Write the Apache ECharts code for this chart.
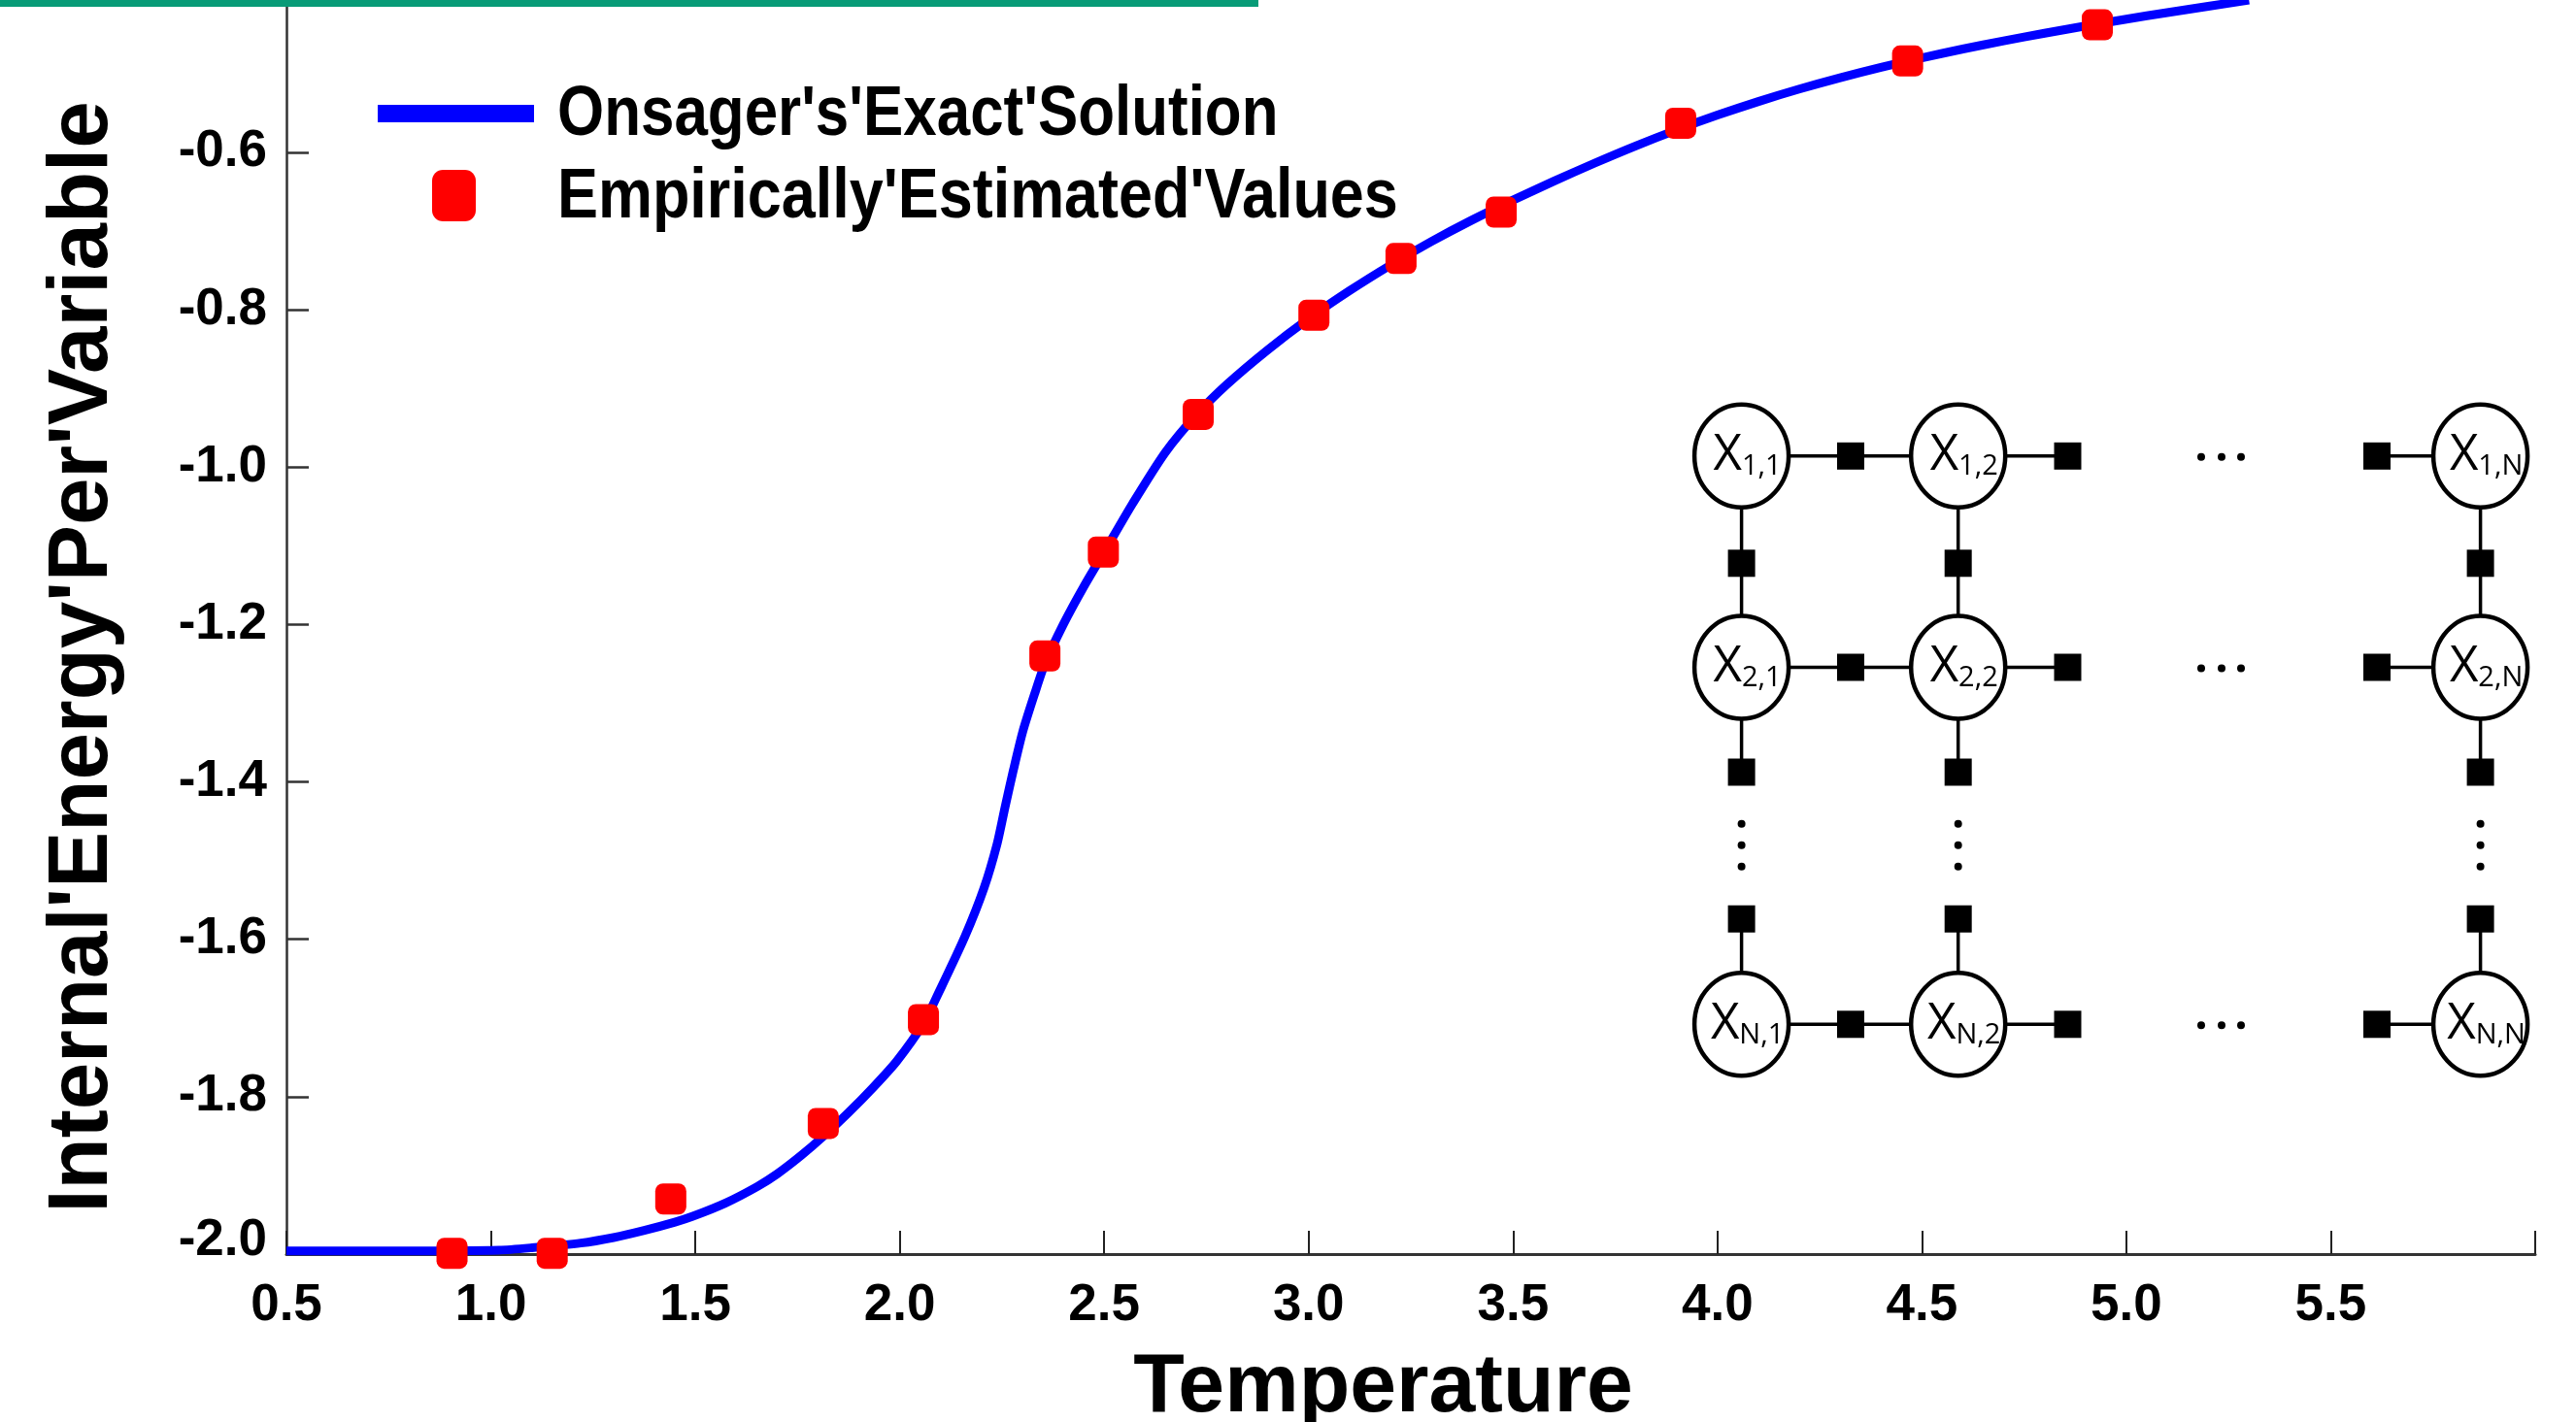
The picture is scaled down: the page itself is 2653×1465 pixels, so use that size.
<!DOCTYPE html>
<html>
<head>
<meta charset="utf-8">
<script src="https://cdn.jsdelivr.net/npm/echarts@6/dist/echarts.min.js"></script>
<style>
html,body{margin:0;padding:0;background:#fff;}
#main{width:2653px;height:1465px;}
</style>
</head>
<body>
<div id="main"></div>
<script>
// ---------- data ----------
var seriesLineName = "Onsager's'Exact'Solution";
var seriesPointName = "Empirically'Estimated'Values";
var xAxisName = "Temperature";
var yAxisName = "Internal'Energy'Per'Variable";

var curveT = [0.50, 0.80, 1.02, 1.10, 1.22, 1.30, 1.375, 1.45, 1.494, 1.573, 1.652, 1.70, 1.76, 1.813, 1.874, 1.935, 1.993,
  2.058, 2.096, 2.159, 2.206, 2.238, 2.258, 2.278, 2.301, 2.33, 2.355, 2.40, 2.45, 2.50, 2.57, 2.65, 2.73,
  2.80, 2.90, 3.00, 3.10, 3.20, 3.30, 3.40, 3.50, 3.60, 3.70, 3.80, 3.90, 4.00, 4.10, 4.20, 4.30, 4.40, 4.50,
  4.60, 4.70, 4.80, 4.90, 5.00, 5.10, 5.20, 5.30];
var curveE = [-1.996, -1.996, -1.995, -1.992, -1.986, -1.979, -1.970, -1.9595, -1.952, -1.9354, -1.9141, -1.8983, -1.8743, -1.8505, -1.8206, -1.7883, -1.7547,
  -1.707, -1.667, -1.597, -1.535, -1.479, -1.431, -1.385, -1.336, -1.288, -1.250, -1.200, -1.152, -1.108, -1.046, -0.981, -0.931,
  -0.895, -0.851, -0.8115, -0.776, -0.7435, -0.7135, -0.686, -0.6607, -0.6367, -0.6137, -0.5919, -0.5716, -0.5528, -0.5355, -0.5197, -0.5053, -0.4921, -0.4800,
  -0.4688, -0.4584, -0.4487, -0.4395, -0.4308, -0.4225, -0.4145, -0.4067];

var pointT = [0.905, 1.150, 1.440, 1.813, 2.058, 2.355, 2.498, 2.730, 3.013, 3.226, 3.471, 3.910, 4.465, 4.929];
var pointE = [-1.999, -1.999, -1.930, -1.834, -1.702, -1.240, -1.108, -0.933, -0.807, -0.735, -0.676, -0.563, -0.484, -0.438];

var xTickValues = [0.5, 1.0, 1.5, 2.0, 2.5, 3.0, 3.5, 4.0, 4.5, 5.0, 5.5, 6.0];
var xLabelValues = [0.5, 1.0, 1.5, 2.0, 2.5, 3.0, 3.5, 4.0, 4.5, 5.0, 5.5];
var yTickValues = [-2.0, -1.8, -1.6, -1.4, -1.2, -1.0, -0.8, -0.6];

// factor graph inset labels
var nodeLabels = [["1,1", "1,2", "1,N"], ["2,1", "2,2", "2,N"], ["N,1", "N,2", "N,N"]];

// ---------- chart ----------
var FONT = "'Liberation Sans', Arial, Helvetica, sans-serif";
var chart = echarts.init(document.getElementById('main'), null, {renderer: 'canvas'});

var els = [];
// top accent bar
els.push({type: 'rect', shape: {x: 0, y: 0, width: 1296, height: 7}, style: {fill: '#089b77'}, z: 10});
// legend labels (condensed bold look)
els.push({type: 'text', x: 574, y: 119, scaleX: 0.848, z: 10,
  style: {text: seriesLineName, x: 0, y: 0, align: 'left', verticalAlign: 'middle', textAlign: 'left', textVerticalAlign: 'middle',
    fontSize: 73, fontWeight: 'bold', fontFamily: FONT, fill: '#000'}});
els.push({type: 'text', x: 574, y: 204, scaleX: 0.862, z: 10,
  style: {text: seriesPointName, x: 0, y: 0, align: 'left', verticalAlign: 'middle', textAlign: 'left', textVerticalAlign: 'middle',
    fontSize: 73, fontWeight: 'bold', fontFamily: FONT, fill: '#000'}});

// inset factor-graph diagram (illustration, not data)
var colX = [1793.6, 2016.7, 2554.6];
var rowY = [469.8, 687.5, 1055.3];
var hFactorX = [1906, 2129.5, 2448];
var vFactorY = [580.3, 795.5, 946.7];
var hDotX = [2267, 2288, 2308];
var vDotY = [848.7, 870.7, 892.7];
var LW = 3.5;
function ln(x1, y1, x2, y2) {
  els.push({type: 'line', shape: {x1: x1, y1: y1, x2: x2, y2: y2}, style: {stroke: '#000', lineWidth: LW}, z: 10});
}
for (var r = 0; r < 3; r++) {
  ln(colX[0], rowY[r], colX[1], rowY[r]);
  ln(colX[1], rowY[r], hFactorX[1], rowY[r]);
  ln(hFactorX[2], rowY[r], colX[2], rowY[r]);
}
for (var c = 0; c < 3; c++) {
  ln(colX[c], rowY[0], colX[c], rowY[1]);
  ln(colX[c], rowY[1], colX[c], vFactorY[1]);
  ln(colX[c], vFactorY[2], colX[c], rowY[2]);
}
var NODEFONT = "'Open Sans', 'Noto Sans', sans-serif";
for (var r2 = 0; r2 < 3; r2++) {
  for (var c2 = 0; c2 < 3; c2++) {
    els.push({type: 'ellipse', shape: {cx: colX[c2], cy: rowY[r2], rx: 48.5, ry: 53}, style: {fill: '#fff', stroke: '#000', lineWidth: 4.5}, z: 11});
    els.push({type: 'text', x: colX[c2] + 6, y: rowY[r2], z: 12,
      style: {text: '{x|X}{s|' + nodeLabels[r2][c2] + '}', align: 'center', verticalAlign: 'middle', textAlign: 'center', textVerticalAlign: 'middle',
        rich: {x: {fontSize: 51, lineHeight: 51, fontFamily: NODEFONT, fill: '#000', color: '#000', verticalAlign: 'bottom'},
               s: {fontSize: 29, lineHeight: 29, fontFamily: NODEFONT, fill: '#000', color: '#000', verticalAlign: 'bottom'}}}});
  }
}
function sq(cx, cy) {
  els.push({type: 'rect', shape: {x: cx - 14, y: cy - 14, width: 28, height: 28}, style: {fill: '#000'}, z: 12});
}
for (var r3 = 0; r3 < 3; r3++) { for (var k = 0; k < 3; k++) sq(hFactorX[k], rowY[r3]); }
for (var c3 = 0; c3 < 3; c3++) { for (var k2 = 0; k2 < 3; k2++) sq(colX[c3], vFactorY[k2]); }
for (var r4 = 0; r4 < 3; r4++) { for (var d = 0; d < 3; d++) els.push({type: 'circle', shape: {cx: hDotX[d], cy: rowY[r4] + 1, r: 4}, style: {fill: '#000'}, z: 12}); }
for (var c4 = 0; c4 < 3; c4++) { for (var d2 = 0; d2 < 3; d2++) els.push({type: 'circle', shape: {cx: colX[c4], cy: vDotY[d2], r: 4}, style: {fill: '#000'}, z: 12}); }

var tickLabelStyle = {color: '#000', fontSize: 53, fontWeight: 'bold', fontFamily: FONT};
var legendText = {color: '#000', fontSize: 1, lineHeight: 1};

var option = {
  animation: false,
  backgroundColor: '#ffffff',
  grid: {left: 295, right: 42, top: 0, bottom: 173, containLabel: false, outerBoundsMode: 'none'},
  legend: [
    {
      data: [{name: seriesLineName, icon: 'rect'}],
      left: 389, top: 108, padding: 0, orient: 'vertical',
      itemWidth: 161, itemHeight: 18,
      formatter: function () { return ''; },
      textStyle: legendText
    },
    {
      data: [{name: seriesPointName, icon: 'roundRect'}],
      left: 445, top: 175, padding: 0, orient: 'vertical',
      itemWidth: 45, itemHeight: 53,
      formatter: function () { return ''; },
      textStyle: legendText
    }
  ],
  xAxis: {
    type: 'value', min: 0.5, max: 6.0, interval: 0.5,
    name: xAxisName, nameLocation: 'middle', nameGap: 95,
    nameTextStyle: {color: '#000', fontSize: 86, lineHeight: 86, fontWeight: 'bold', fontFamily: FONT, padding: [0, 57, 0, 0]},
    axisLine: {show: true, onZero: false, lineStyle: {color: '#333', width: 3}},
    axisTick: {show: true, inside: true, length: 24, lineStyle: {color: '#222', width: 2}, customValues: xTickValues},
    axisLabel: Object.assign({margin: 27, customValues: xLabelValues, formatter: function (v) { return Number(v).toFixed(1); }}, tickLabelStyle),
    splitLine: {show: false}
  },
  yAxis: {
    type: 'value', min: -2.0, max: -0.4065, interval: 0.2,
    name: yAxisName, nameLocation: 'middle', nameGap: 165,
    nameTextStyle: {color: '#000', fontSize: 87, lineHeight: 87, fontWeight: 'bold', fontFamily: FONT, padding: [0, 62, 0, 0]},
    axisLine: {show: true, onZero: false, lineStyle: {color: '#333', width: 2.5}},
    axisTick: {show: true, inside: true, length: 23, lineStyle: {color: '#333', width: 2.5}, customValues: yTickValues},
    axisLabel: Object.assign({
      margin: 20, customValues: yTickValues,
      formatter: function (v) { var s = Number(v).toFixed(1); return Math.abs(v + 2) < 1e-9 ? '{b|' + s + '}' : '{a|' + s + '}'; },
      rich: {
        a: {color: '#000', fontSize: 53, fontWeight: 'bold', fontFamily: FONT},
        b: {color: '#000', fontSize: 53, fontWeight: 'bold', fontFamily: FONT, padding: [0, 0, 28, 0]}
      }
    }, tickLabelStyle),
    splitLine: {show: false}
  },
  series: [
    {
      name: seriesLineName, type: 'line',
      data: curveT.map(function (t, i) { return [t, curveE[i]]; }),
      showSymbol: false, symbol: 'none', smooth: 0.25,
      lineStyle: {color: '#0000ff', width: 9, join: 'round', cap: 'butt'}, itemStyle: {color: '#0000ff'}, z: 2
    },
    {
      name: seriesPointName, type: 'scatter',
      data: pointT.map(function (t, i) { return [t, pointE[i]]; }),
      symbol: 'roundRect', symbolSize: 32,
      itemStyle: {color: '#ff0000', opacity: 1}, z: 3
    }
  ],
  graphic: {elements: els}
};
chart.setOption(option);
</script>
</body>
</html>
